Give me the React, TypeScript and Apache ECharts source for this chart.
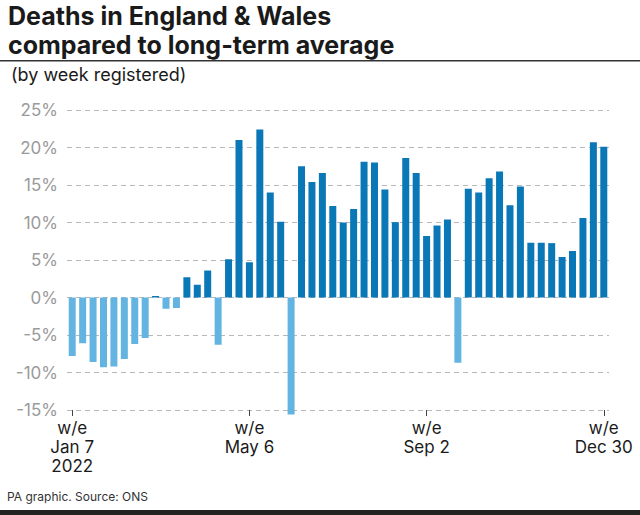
import React, { useEffect, useRef } from "react";
import * as echarts from "echarts";

const weeks = [
  "Jan 7", "Jan 14", "Jan 21", "Jan 28", "Feb 4", "Feb 11", "Feb 18", "Feb 25",
  "Mar 4", "Mar 11", "Mar 18", "Mar 25", "Apr 1", "Apr 8", "Apr 15", "Apr 22", "Apr 29",
  "May 6", "May 13", "May 20", "May 27", "Jun 3", "Jun 10", "Jun 17", "Jun 24",
  "Jul 1", "Jul 8", "Jul 15", "Jul 22", "Jul 29", "Aug 5", "Aug 12", "Aug 19", "Aug 26",
  "Sep 2", "Sep 9", "Sep 16", "Sep 23", "Sep 30", "Oct 7", "Oct 14", "Oct 21", "Oct 28",
  "Nov 4", "Nov 11", "Nov 18", "Nov 25", "Dec 2", "Dec 9", "Dec 16", "Dec 23", "Dec 30",
];

const excessPct = [
  -7.8, -6.1, -8.6, -9.3, -9.2, -8.2, -6.2, -5.4, 0.2, -1.5, -1.4, 2.7, 1.7, 3.6, -6.3,
  5.1, 21.0, 4.7, 22.4, 14.0, 10.1, -15.6, 17.5, 15.4, 16.6, 12.2, 10.0, 11.8, 18.1,
  18.0, 14.4, 10.05, 18.6, 16.6, 8.2, 9.6, 10.4, -8.7, 14.5, 14.0, 15.9, 16.8, 12.3,
  14.8, 7.3, 7.3, 7.25, 5.4, 6.2, 10.6, 20.7, 20.1,
];

const tickLabels: Record<string, string> = {
  "Jan 7": "w/e\nJan 7\n2022",
  "May 6": "w/e\nMay 6",
  "Sep 2": "w/e\nSep 2",
  "Dec 30": "w/e\nDec 30",
};

const titleLines = ["Deaths in England & Wales", "compared to long-term average"];
const subtitle = "(by week registered)";
const source = "PA graphic. Source: ONS";

const POS = "#0a77b7";
const NEG = "#63b4e1";
const FONT = "Inter, Roboto, 'Noto Sans', sans-serif";

export default function App() {
  const ref = useRef<HTMLDivElement>(null);
  useEffect(() => {
    document.body.style.margin = "0";
    const chart = echarts.init(ref.current!, null, { renderer: "svg" });
    const showIdx = (i: number) => weeks[i] in tickLabels;
    chart.setOption({
      animation: false,
      backgroundColor: "#ffffff",
      textStyle: { fontFamily: FONT },
      grid: { left: 67, right: 31, top: 110, bottom: 105, containLabel: false },
      xAxis: {
        type: "category",
        data: weeks,
        axisLine: { show: true, onZero: false, lineStyle: { color: "rgba(0,0,0,0)" } },
        axisTick: {
          show: true,
          alignWithLabel: true,
          interval: (i: number) => showIdx(i),
          length: 6,
          lineStyle: { color: "#444", width: 1 },
        },
        axisLabel: {
          interval: (i: number) => showIdx(i),
          formatter: (v: string) => tickLabels[v] || "",
          color: "#1a1a1a",
          fontSize: 17,
          lineHeight: 19,
          margin: 8,
          fontFamily: FONT,
        },
        splitLine: { show: false },
      },
      yAxis: {
        type: "value",
        min: -15,
        max: 25,
        interval: 5,
        axisLine: { show: false },
        axisTick: { show: false },
        axisLabel: {
          formatter: (v: number) => `${v}%`,
          color: "#9a9a9a",
          fontSize: 17,
          margin: 9,
          fontFamily: FONT,
        },
        splitLine: {
          show: true,
          lineStyle: { color: "#b8b8b8", type: [5, 4], width: 1 },
        },
      },
      series: [
        {
          type: "bar",
          clip: false,
          data: excessPct.map((v) => ({
            value: v,
            itemStyle: { color: v >= 0 ? POS : NEG },
          })),
          barWidth: 7,
        },
      ],
      graphic: [
        {
          type: "text",
          left: 8,
          top: 1,
          style: {
            text: titleLines.join("\n"),
            font: `700 25px ${FONT}`,
            lineHeight: 29,
            fill: "#1a1a1a",
          },
        },
        {
          type: "rect",
          shape: { x: 0, y: 60, width: 640, height: 1.5 },
          style: { fill: "#333" },
        },
        {
          type: "text",
          left: 11,
          top: 65,
          style: { text: subtitle, font: `18px ${FONT}`, fill: "#1a1a1a" },
        },
        {
          type: "text",
          left: 7,
          top: 490,
          style: { text: source, font: `12px ${FONT}`, fill: "#333" },
        },
        {
          type: "rect",
          shape: { x: 0, y: 510, width: 640, height: 5 },
          style: { fill: "#222" },
        },
      ],
    });
    return () => chart.dispose();
  }, []);
  return <div ref={ref} style={{ width: 640, height: 515 }} />;
}
